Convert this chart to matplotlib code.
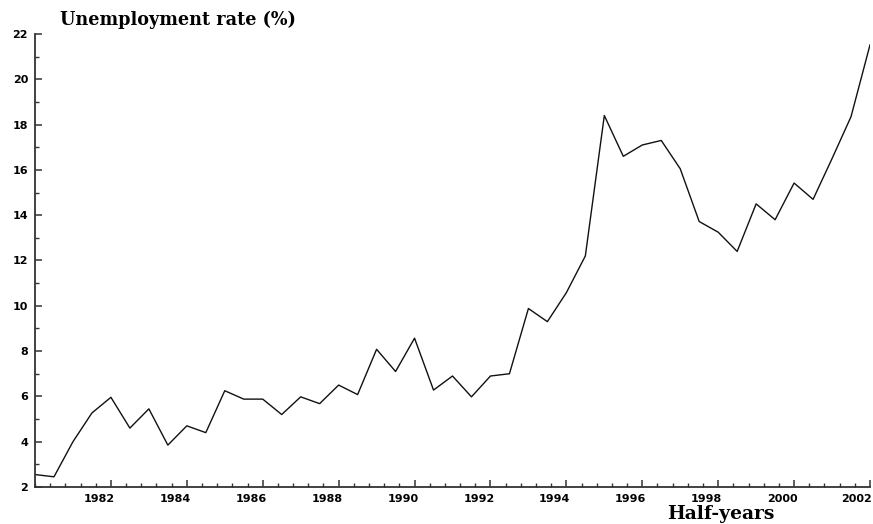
import numpy as np
import matplotlib
matplotlib.use('Agg')
import matplotlib.pyplot as plt
import matplotlib.transforms as mtransforms
from matplotlib.ticker import MultipleLocator, FixedLocator

# half-year observations, 1980 H1 .. 2002 H1
half_years = np.arange(1980.0, 2002.01, 0.5)
rate = [2.55, 2.45, 4.0, 5.27, 5.96, 4.6, 5.45, 3.85, 4.7, 4.4,
        6.25, 5.88, 5.88, 5.2, 5.98, 5.68, 6.5, 6.08, 8.08, 7.1,
        8.57, 6.28, 6.9, 5.98, 6.9, 7.0, 9.88, 9.3, 10.58, 12.2,
        18.4, 16.6, 17.1, 17.3, 16.05, 13.72, 13.25, 12.4, 14.5, 13.8,
        15.42, 14.7, 16.5, 18.35, 21.52]
year_ticks = list(range(1982, 2003, 2))
rate_ticks = list(range(2, 23, 2))

fig = plt.figure(figsize=(8.73, 5.24), dpi=100)
ax = fig.add_axes([35/873, 37/524, 835/873, 453/524])

ax.plot(half_years, rate, color='#111111', lw=1.0)

ax.set_xlim(1980, 2002)
ax.set_ylim(2, 22)
ax.xaxis.set_major_locator(FixedLocator(year_ticks))
ax.xaxis.set_minor_locator(MultipleLocator(0.4))
ax.yaxis.set_major_locator(FixedLocator(rate_ticks))
ax.yaxis.set_minor_locator(MultipleLocator(1))

for s in ['top', 'right']:
    ax.spines[s].set_visible(False)
for s in ['left', 'bottom']:
    ax.spines[s].set_color('#333333')
    ax.spines[s].set_linewidth(1.3)

ax.tick_params(which='major', direction='in', length=5, width=1.1, color='#333333')
ax.tick_params(which='minor', direction='in', length=3, width=1.0, color='#333333')
ax.tick_params(axis='x', pad=5)
ax.tick_params(axis='y', pad=5)
for lab in ax.get_xticklabels() + ax.get_yticklabels():
    lab.set_fontfamily('DejaVu Sans')
    lab.set_fontweight('bold')
    lab.set_fontsize(8)

# year labels sit just left of their tick, the last one pulled in from the edge
shift = mtransforms.ScaledTranslation(4/100, 0, fig.dpi_scale_trans)
xlabs = ax.get_xticklabels()
for lab in xlabs[:-1]:
    lab.set_horizontalalignment('right')
    lab.set_transform(lab.get_transform() + shift)
xlabs[-1].set_horizontalalignment('right')
xlabs[-1].set_transform(xlabs[-1].get_transform() + mtransforms.ScaledTranslation(2/100, 0, fig.dpi_scale_trans))

fig.text(60/873, 1 - 11/524, 'Unemployment rate (%)', family='DejaVu Serif',
         fontweight='bold', fontsize=12.7, ha='left', va='top')
fig.text(721/873, 1 - 523/524, 'Half-years', family='DejaVu Serif',
         fontweight='bold', fontsize=13.5, ha='center', va='bottom')

fig.savefig('out.png', dpi=100)
